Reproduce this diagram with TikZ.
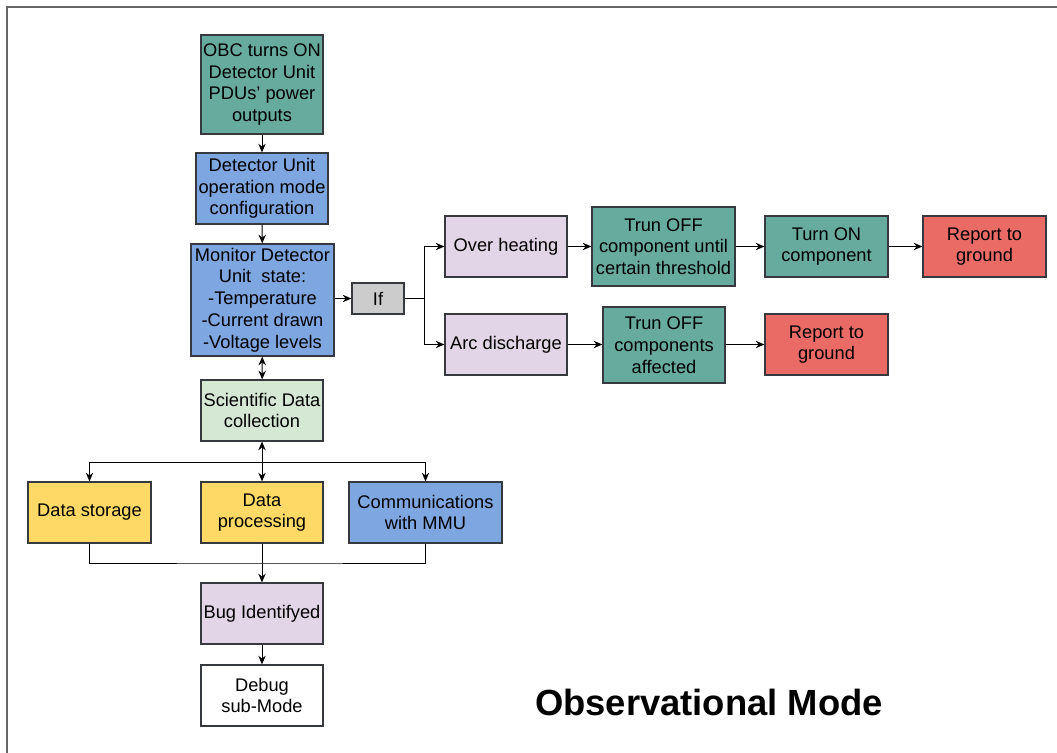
\documentclass[tikz,border=0pt]{standalone}
\usepackage{fontspec}
\setmainfont{Liberation Sans}
\usetikzlibrary{arrows.meta}
\definecolor{tealf}{HTML}{67AB9F}
\definecolor{bluef}{HTML}{7EA6E0}
\definecolor{greenf}{HTML}{D5E8D4}
\definecolor{lilacf}{HTML}{E1D5E7}
\definecolor{yellowf}{HTML}{FFD966}
\definecolor{redf}{HTML}{EA6B66}
\definecolor{grayf}{HTML}{CCCCCC}
\definecolor{edge}{HTML}{36393D}
\tikzset{
  blk/.style 2 args={draw=edge, line width=0.9pt, align=center, inner sep=1pt,
    minimum width=#1*0.75pt, minimum height=#2*0.75pt,
    font=\fontsize{13.7pt}{16.3pt}\selectfont},
  arr/.style={draw=black, line width=0.75pt, -{Stealth[length=6.5pt,width=5.5pt]}},
  dbl/.style={draw=black, line width=0.75pt, {Stealth[length=6.5pt,width=5.5pt]}-{Stealth[length=6.5pt,width=5.5pt]}},
  ln/.style={draw=black, line width=0.75pt},
}
\begin{document}
\begin{tikzpicture}[x=0.75pt, y=-0.75pt]
\useasboundingbox (0,0) rectangle (1057,753);
% outer frame
\draw[line width=1.2pt, draw=gray!80!black] (7,753) -- (7,7) -- (1057,7);

% main column
\node[blk={122}{99}, fill=tealf] (obc) at (262,84.5) {OBC turns ON\\Detector Unit\\PDUs{\char"27} power\\outputs};
\node[blk={132}{71}, fill=bluef] (cfg) at (262,188.5) {Detector Unit\\operation mode\\configuration};
\node[blk={143}{112}, fill=bluef] (mon) at (262.5,300) {Monitor Detector\\Unit\ \ state:\\-Temperature\\-Current drawn\\-Voltage levels};
\node[blk={122}{61}, fill=greenf] (sci) at (262,410.5) {Scientific Data\\collection};

% fault handling
\node[blk={52}{31}, fill=grayf] (iff) at (378,298.5) {If};
\node[blk={122}{61}, fill=lilacf] (oh) at (506,246.5) {Over heating};
\node[blk={122}{61}, fill=lilacf] (arc) at (506,344.5) {Arc discharge};
\node[blk={143}{79}, fill=tealf] (off1) at (663.5,246.5) {Trun OFF\\component until\\certain threshold};
\node[blk={122}{76}, fill=tealf] (off2) at (664,345) {Trun OFF\\components\\affected};
\node[blk={123}{61}, fill=tealf] (on) at (826.5,246.5) {Turn ON\\component};
\node[blk={123}{61}, fill=redf] (rep1) at (984.5,246.5) {Report to\\ground};
\node[blk={123}{61}, fill=redf] (rep2) at (826.5,344.5) {Report to\\ground};

% data handling
\node[blk={123}{61}, fill=yellowf] (dst) at (89.5,512.5) {Data storage};
\node[blk={122}{61}, fill=yellowf] (dpr) at (262,512.5) {Data\\processing};
\node[blk={153}{61}, fill=bluef] (com) at (425.5,512.5) {Communications\\with MMU};
\node[blk={122}{61}, fill=lilacf] (bug) at (262,613.5) {Bug Identifyed};
\node[blk={122}{61}, fill=white] (dbg) at (262,695.5) {Debug\\sub-Mode};

\node[font=\bfseries\fontsize{27.3pt}{32pt}\selectfont] (title) at (709,702) {Observational Mode};

% connectors
\draw[arr] (obc) -- (cfg);
\draw[arr] (cfg) -- (mon);
\draw[dbl] (mon) -- (sci);
\draw[arr] (iff.west -| mon.east) -- (iff.west);
\coordinate (fork) at (424,298.5);
\draw[ln] (iff.east) -- (fork);
\draw[arr] (fork) |- (oh.west);
\draw[arr] (fork) |- (arc.west);
\draw[arr] (oh) -- (off1);
\draw[arr] (off1) -- (on);
\draw[arr] (on) -- (rep1);
\draw[arr] (arc) -- (arc -| off2.west);
\draw[arr] (arc -| off2.east) -- (rep2);

\coordinate (fan) at (262,462);
\draw[arr] (fan) -| (dst.north);
\draw[arr] (fan) -| (com.north);
\draw[dbl] (sci) -- (dpr);
\coordinate (merge) at (262,563);
\draw[ln] (dst.south) |- (merge) -| (com.south);
\draw[arr] (dpr) -- (bug);
\draw[arr] (bug) -- (dbg);
\end{tikzpicture}
\end{document}
